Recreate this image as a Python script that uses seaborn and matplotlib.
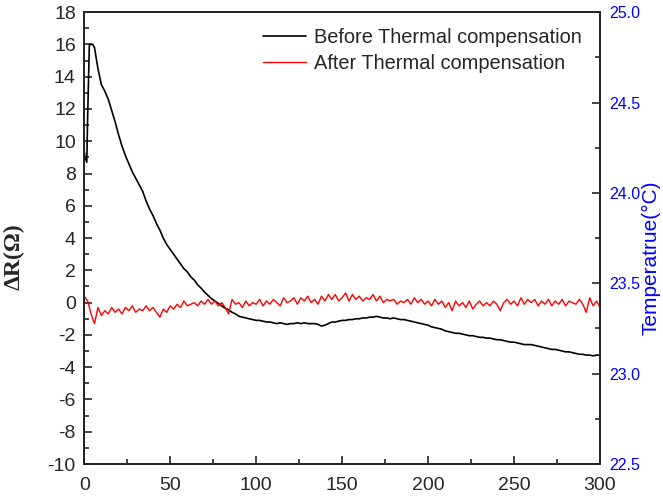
import matplotlib
matplotlib.use("Agg")
import matplotlib.pyplot as plt
from matplotlib.ticker import MultipleLocator
import seaborn as sns

# Before thermal compensation (black)
before_t = [0, 0.5, 1.5, 2, 3, 4, 5, 6, 8, 10, 12, 14, 16, 18, 20, 22, 24, 26, 28, 30,
            32, 34, 36, 38, 40, 42, 44, 46, 48, 50, 52, 54, 56, 58, 60, 62, 64, 66, 68, 70,
            72, 74, 76, 78, 80, 82, 84, 86, 88, 90, 92, 94, 96, 98, 100, 102, 104, 106, 108, 110,
            112, 114, 116, 118, 120, 122, 124, 126, 128, 130, 132, 134, 136, 138, 140, 142, 144, 146, 148, 150,
            152, 154, 156, 158, 160, 162, 164, 166, 168, 170, 172, 174, 176, 178, 180, 182, 184, 186, 188, 190,
            192, 194, 196, 198, 200, 202, 204, 206, 208, 210, 212, 214, 216, 218, 220, 222, 224, 226, 228, 230,
            232, 234, 236, 238, 240, 242, 244, 246, 248, 250, 252, 254, 256, 258, 260, 262, 264, 266, 268, 270,
            272, 274, 276, 278, 280, 282, 284, 286, 288, 290, 292, 294, 296, 298, 300]
before_r = [9.4, 9.0, 8.7, 11.5, 16.0, 16.0, 16.0, 15.8, 14.5, 13.5, 13.1, 12.6, 11.9, 11.2, 10.4, 9.7, 9.1, 8.6, 8.1, 7.7,
            7.3, 6.9, 6.3, 5.8, 5.4, 4.9, 4.5, 4.0, 3.6, 3.3, 3.0, 2.7, 2.4, 2.1, 1.9, 1.6, 1.4, 1.1, 0.9, 0.65,
            0.45, 0.25, 0.1, -0.05, -0.2, -0.35, -0.45, -0.6, -0.7, -0.85, -0.9, -0.95, -1.0, -1.05, -1.1, -1.1, -1.15, -1.2, -1.2, -1.25,
            -1.3, -1.25, -1.3, -1.35, -1.3, -1.3, -1.25, -1.3, -1.25, -1.3, -1.3, -1.3, -1.35, -1.45, -1.4, -1.3, -1.2, -1.2, -1.15, -1.1,
            -1.1, -1.05, -1.05, -1.0, -1.0, -0.95, -0.95, -0.9, -0.9, -0.85, -0.9, -0.95, -0.95, -1.0, -0.95, -1.0, -1.05, -1.05, -1.1, -1.15,
            -1.2, -1.25, -1.3, -1.35, -1.4, -1.5, -1.55, -1.6, -1.65, -1.75, -1.8, -1.85, -1.9, -1.9, -1.95, -2.0, -2.05, -2.05, -2.1, -2.15,
            -2.15, -2.2, -2.2, -2.25, -2.3, -2.3, -2.35, -2.4, -2.45, -2.45, -2.5, -2.55, -2.6, -2.6, -2.6, -2.65, -2.7, -2.75, -2.8, -2.85,
            -2.9, -2.9, -2.95, -3.0, -3.05, -3.05, -3.1, -3.15, -3.2, -3.2, -3.25, -3.25, -3.3, -3.25, -3.25]

# After thermal compensation (red), sampled every 2 s
after_t = list(range(0, 301, 2))
after_r = [0.4, 0.1, -0.7, -1.3, -0.3, -0.8, -0.5, -0.7, -0.3, -0.6,
           -0.4, -0.7, -0.3, -0.5, -0.2, -0.6, -0.4, -0.5, -0.2, -0.5,
           -0.3, -0.6, -0.9, -0.4, -0.6, -0.2, -0.4, -0.1, -0.3, 0.1,
           -0.2, -0.1, 0.0, -0.2, 0.1, -0.1, 0.2, -0.1, 0.1, -0.2,
           0.0, -0.3, -0.7, 0.2, -0.1, 0.0, -0.3, 0.1, -0.2, 0.0,
           -0.1, 0.2, -0.2, 0.1, -0.1, 0.2, 0.0, -0.2, 0.3, 0.0,
           0.1, 0.3, -0.1, 0.3, 0.1, 0.4, 0.0, 0.2, -0.1, 0.4,
           0.1, 0.5, 0.2, 0.5, 0.1, 0.3, 0.6, 0.1, 0.5, 0.2,
           0.4, 0.1, 0.3, 0.2, 0.5, 0.1, 0.4, 0.0, 0.2, 0.1,
           0.2, -0.1, 0.1, 0.0, 0.2, -0.1, 0.3, 0.0, 0.2, -0.1,
           0.1, -0.2, 0.2, -0.1, 0.1, -0.3, 0.0, -0.5, 0.1, -0.2,
           0.0, -0.3, 0.1, -0.4, -0.1, 0.1, -0.2, 0.0, -0.2, 0.1,
           -0.1, -0.5, 0.0, 0.2, -0.1, 0.1, -0.2, 0.3, -0.1, 0.2,
           0.0, 0.2, -0.2, 0.1, -0.1, 0.2, -0.2, 0.1, -0.1, 0.2,
           -0.2, 0.1, 0.0, -0.1, 0.2, -0.1, -0.6, 0.3, -0.2, 0.1,
           -0.3]

sns.set_style("ticks")
plt.rcParams['font.family'] = ['Liberation Sans', 'DejaVu Sans']
plt.rcParams['axes.unicode_minus'] = False

fig = plt.figure(figsize=(6.63, 4.96), dpi=100)
ax = fig.add_axes([0.127, 0.0645, 0.778, 0.911])

sns.lineplot(x=before_t, y=before_r, ax=ax, color='black', lw=1.2,
             estimator=None, sort=False, label='Before Thermal compensation')
sns.lineplot(x=after_t, y=after_r, ax=ax, color='red', lw=1.0,
             estimator=None, sort=False, label='After Thermal compensation')

ax.set_xlim(0, 300)
ax.set_ylim(-10, 18)
ax.xaxis.set_major_locator(MultipleLocator(50))
ax.xaxis.set_minor_locator(MultipleLocator(25))
ax.yaxis.set_major_locator(MultipleLocator(2))
ax.yaxis.set_minor_locator(MultipleLocator(1))
ax.tick_params(which='both', direction='in', top=False, right=False, width=1.2)
ax.tick_params(which='major', length=6, labelsize=14)
ax.tick_params(which='minor', length=3.5)
ax.tick_params(axis='x', which='major', pad=9)
ax.tick_params(axis='y', which='major', pad=6)
ax.set_ylabel('ΔR(Ω)', fontsize=17, fontweight='bold', family=['Liberation Serif', 'DejaVu Serif'])
ax.yaxis.set_label_coords(-0.115, 0.458)
ax.set_xlabel('')
for s in ax.spines.values():
    s.set_linewidth(1.3)

ax2 = ax.twinx()
ax2.set_ylim(22.5, 25.0)
ax2.yaxis.set_major_locator(MultipleLocator(0.5))
ax2.yaxis.set_minor_locator(MultipleLocator(0.25))
ax2.yaxis.set_major_formatter(plt.FormatStrFormatter('%.1f'))
ax2.tick_params(which='both', direction='in', labelcolor='blue', width=1.2)
ax2.tick_params(which='major', length=6, labelsize=11.5, pad=7)
ax2.tick_params(which='minor', length=3.5)
ax2.set_ylabel('Temperatrue(°C)', color='blue', fontsize=15)
ax2.yaxis.set_label_coords(1.081, 0.456)
for s in ax2.spines.values():
    s.set_linewidth(1.3)

ax.legend(loc='upper right', bbox_to_anchor=(0.965, 0.964), frameon=False,
          fontsize=14.4, handlelength=2.15, handletextpad=0.4, labelspacing=0.35,
          borderaxespad=0, borderpad=0)

fig.savefig('out.png', dpi=100)
